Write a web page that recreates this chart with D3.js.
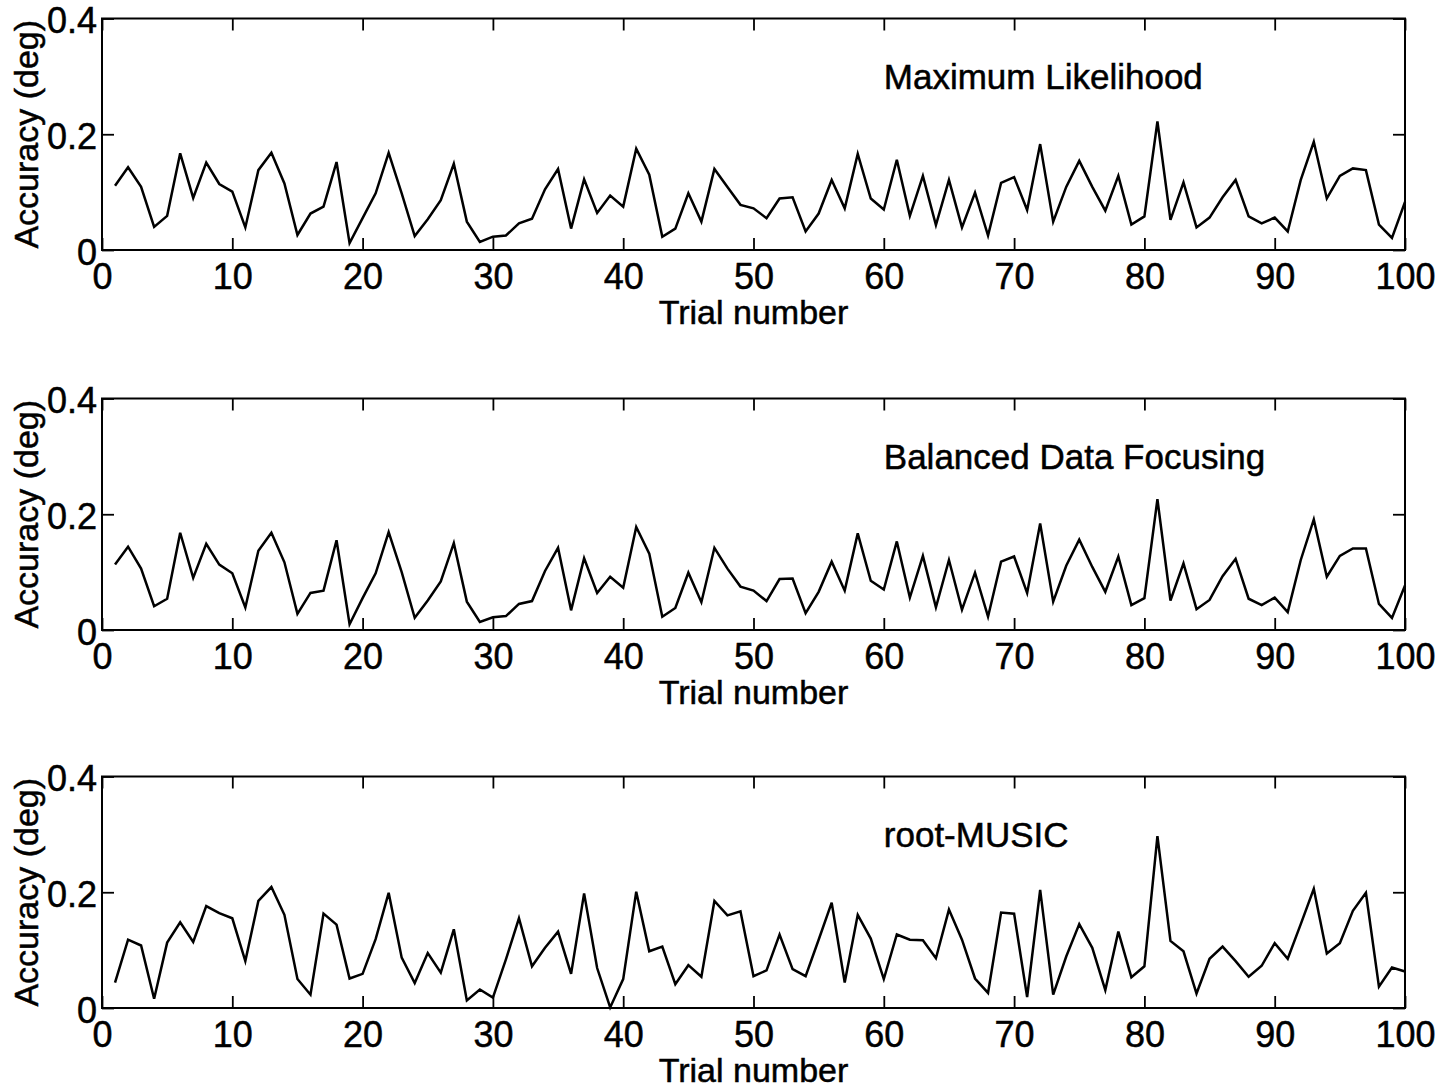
<!DOCTYPE html>
<html>
<head>
<meta charset="utf-8">
<script src="https://cdn.jsdelivr.net/npm/d3@7"></script>
<style>
  html, body { margin: 0; padding: 0; background: #fff; }
  svg { display: block; }
</style>
</head>
<body>
<svg id="chart" width="1456" height="1088"></svg>
<script>
// Trial index shared by all three estimators
const trials = d3.range(1, 101);

// Estimation accuracy (deg) per trial, one array per method
const maxLikelihood = [
  0.111, 0.143, 0.109, 0.040, 0.059, 0.167, 0.090, 0.151, 0.114, 0.101,
  0.039, 0.138, 0.168, 0.115, 0.026, 0.063, 0.075, 0.152, 0.012, 0.055,
  0.098, 0.168, 0.098, 0.024, 0.053, 0.086, 0.149, 0.049, 0.014, 0.023,
  0.025, 0.046, 0.054, 0.105, 0.140, 0.037, 0.122, 0.064, 0.094, 0.075,
  0.175, 0.130, 0.023, 0.037, 0.098, 0.049, 0.140, 0.109, 0.078, 0.072,
  0.055, 0.089, 0.091, 0.032, 0.063, 0.121, 0.072, 0.166, 0.089, 0.070,
  0.156, 0.059, 0.128, 0.043, 0.121, 0.039, 0.099, 0.025, 0.116, 0.126,
  0.069, 0.183, 0.049, 0.109, 0.154, 0.109, 0.068, 0.128, 0.044, 0.058,
  0.222, 0.052, 0.117, 0.039, 0.056, 0.091, 0.121, 0.058, 0.046, 0.056,
  0.032, 0.121, 0.187, 0.089, 0.128, 0.141, 0.138, 0.044, 0.021, 0.083
];

const balancedFocusing = [
  0.113, 0.144, 0.106, 0.041, 0.054, 0.168, 0.090, 0.149, 0.113, 0.098,
  0.039, 0.137, 0.168, 0.117, 0.028, 0.064, 0.068, 0.155, 0.010, 0.055,
  0.098, 0.169, 0.100, 0.021, 0.051, 0.084, 0.150, 0.049, 0.014, 0.022,
  0.024, 0.045, 0.050, 0.102, 0.142, 0.034, 0.124, 0.064, 0.092, 0.073,
  0.178, 0.132, 0.023, 0.038, 0.099, 0.048, 0.142, 0.106, 0.075, 0.068,
  0.050, 0.088, 0.089, 0.029, 0.066, 0.118, 0.068, 0.167, 0.085, 0.070,
  0.153, 0.056, 0.128, 0.039, 0.121, 0.035, 0.099, 0.023, 0.118, 0.127,
  0.064, 0.184, 0.049, 0.111, 0.156, 0.109, 0.066, 0.127, 0.043, 0.055,
  0.226, 0.051, 0.115, 0.036, 0.052, 0.093, 0.123, 0.054, 0.043, 0.056,
  0.031, 0.121, 0.191, 0.092, 0.128, 0.141, 0.141, 0.045, 0.021, 0.077
];

const rootMusic = [
  0.044, 0.118, 0.108, 0.016, 0.113, 0.148, 0.114, 0.176, 0.164, 0.155,
  0.081, 0.185, 0.209, 0.161, 0.050, 0.023, 0.163, 0.144, 0.051, 0.059,
  0.119, 0.199, 0.087, 0.043, 0.095, 0.061, 0.136, 0.013, 0.032, 0.018,
  0.084, 0.155, 0.072, 0.104, 0.132, 0.059, 0.198, 0.069, 0.001, 0.050,
  0.201, 0.098, 0.106, 0.041, 0.074, 0.054, 0.185, 0.160, 0.167, 0.055,
  0.065, 0.127, 0.067, 0.055, 0.118, 0.182, 0.044, 0.161, 0.120, 0.050,
  0.127, 0.118, 0.117, 0.086, 0.170, 0.118, 0.051, 0.026, 0.165, 0.163,
  0.019, 0.204, 0.023, 0.089, 0.145, 0.104, 0.031, 0.132, 0.053, 0.072,
  0.297, 0.116, 0.098, 0.025, 0.085, 0.106, 0.081, 0.054, 0.073, 0.112,
  0.085, 0.145, 0.206, 0.094, 0.112, 0.168, 0.199, 0.037, 0.070, 0.063
];

const panelTitles = ["Maximum Likelihood", "Balanced Data Focusing", "root-MUSIC"];
const xTickValues = d3.range(0, 101, 10);
const yTickValues = [0, 0.2, 0.4];
const yTickLabels = ["0", "0.2", "0.4"];
const xLabel = "Trial number";
const yLabel = "Accuracy (deg)";

const series = [maxLikelihood, balancedFocusing, rootMusic];

// ---- layout ----
const svg = d3.select("#chart");
const FONT = "'Liberation Sans', Arial, Helvetica, sans-serif";
const left = 102, right = 1405;
const panelTop = [18.5, 398.5, 776.5];
const panelH = 231.5;
const tickLen = 12;

const x = d3.scaleLinear().domain([0, 100]).range([left, right]);
const line = d3.line();

// slightly heavier glyphs, like a printed figure
function inkText(sel, size) {
  sel.attr("fill", "#000")
    .attr("stroke", "#000")
    .attr("stroke-width", 0.5)
    .style("font-family", FONT)
    .style("font-size", size + "px");
}

series.forEach((vals, k) => {
  const top = panelTop[k];
  const bottom = top + panelH;
  const y = d3.scaleLinear().domain([0, 0.4]).range([bottom, top]);
  const g = svg.append("g").attr("class", "panel");

  // data trace
  g.append("path")
    .datum(trials.map((t, i) => [t, vals[i]]))
    .attr("fill", "none")
    .attr("stroke", "#000")
    .attr("stroke-width", 2.5)
    .attr("stroke-linejoin", "miter")
    .attr("d", line.x(d => x(d[0])).y(d => y(d[1])));

  // bottom axis: inward ticks with labels
  const gb = g.append("g")
    .attr("transform", `translate(0,${bottom})`)
    .call(d3.axisBottom(x).tickValues(xTickValues).tickFormat(d3.format("d"))
      .tickSizeInner(-tickLen).tickSizeOuter(0).tickPadding(13));
  // top axis: inward ticks, no labels
  const gt = g.append("g")
    .attr("transform", `translate(0,${top})`)
    .call(d3.axisTop(x).tickValues(xTickValues).tickFormat("")
      .tickSizeInner(-tickLen).tickSizeOuter(0));
  // left axis: inward ticks with labels
  const gl = g.append("g")
    .attr("transform", `translate(${left},0)`)
    .call(d3.axisLeft(y).tickValues(yTickValues)
      .tickFormat((d, i) => yTickLabels[i])
      .tickSizeInner(-tickLen).tickSizeOuter(0).tickPadding(5));
  // right axis: inward ticks, no labels
  const gr = g.append("g")
    .attr("transform", `translate(${right},0)`)
    .call(d3.axisRight(y).tickValues(yTickValues).tickFormat("")
      .tickSizeInner(-tickLen).tickSizeOuter(0));

  [gb, gt, gl, gr].forEach(a => {
    a.select(".domain").remove();
    a.selectAll(".tick line").attr("stroke", "#000").attr("stroke-width", 1.8);
    a.selectAll(".tick text").call(inkText, 36);
  });
  gl.selectAll(".tick text").attr("dy", "0.4em");

  // axes box
  g.append("rect")
    .attr("x", left).attr("y", top)
    .attr("width", right - left).attr("height", panelH)
    .attr("fill", "none").attr("stroke", "#000").attr("stroke-width", 2);

  // method name inside the plot
  g.append("text")
    .attr("x", x(60)).attr("y", y(0.3)).attr("dy", "0.35em")
    .call(inkText, 35)
    .text(panelTitles[k]);

  // x label
  g.append("text")
    .attr("x", (left + right) / 2).attr("y", bottom + 74)
    .attr("text-anchor", "middle")
    .call(inkText, 34)
    .text(xLabel);

  // y label
  g.append("text")
    .attr("transform", `translate(38,${(top + bottom) / 2}) rotate(-90)`)
    .attr("text-anchor", "middle")
    .call(inkText, 34)
    .text(yLabel);
});
</script>
</body>
</html>
